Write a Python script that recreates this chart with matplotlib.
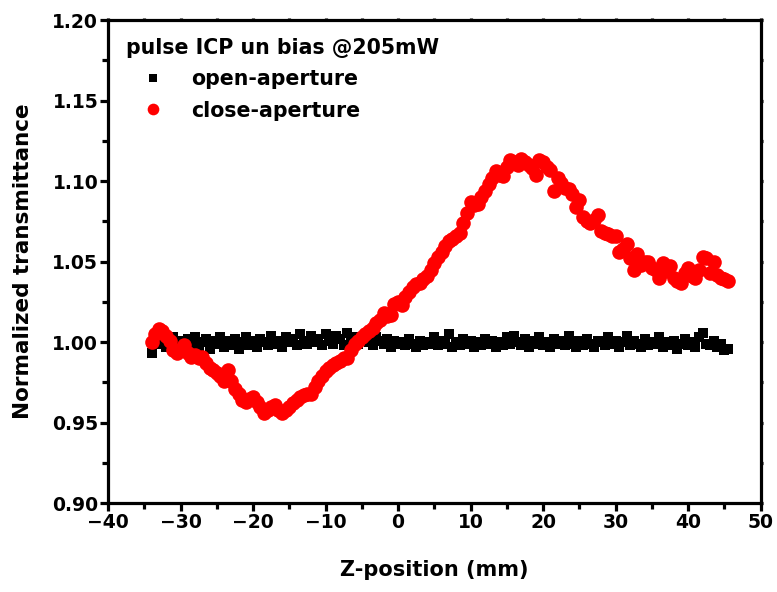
import numpy as np
import matplotlib
matplotlib.use("Agg")
import matplotlib.pyplot as plt
from matplotlib.ticker import MultipleLocator

# scan positions (mm), 0.5 mm step
z_pos = np.arange(-34.0, 46.0, 0.5)

# open-aperture normalized transmittance
open_ap = [
    0.993, 1.001, 0.999, 1.002, 0.997, 1.000, 1.003, 0.998, 1.001,
    0.996, 1.002, 0.999, 1.003, 0.997, 1.000, 1.002, 0.996, 1.001, 0.999,
    1.003, 0.997, 1.001, 0.998, 1.002, 0.996, 1.000, 1.003, 0.998, 1.001,
    0.997, 1.002, 1.000, 0.998, 1.004, 0.999, 1.001, 0.997, 1.003, 1.000,
    1.002, 0.998, 1.005, 1.001, 0.999, 1.004, 1.000, 1.002, 0.998, 1.005,
    1.001, 0.999, 1.004, 1.002, 0.998, 1.006, 1.000, 1.003, 0.999, 1.002,
    1.004, 1.000, 0.998, 1.003, 1.001, 0.999, 1.002, 0.997, 1.001, 0.999,
    1.000, 0.998, 1.002, 0.999, 0.997, 1.001, 0.998, 1.000, 0.999, 1.003,
    0.998, 1.001, 0.999, 1.005, 0.997, 1.000, 0.998, 1.002, 0.999, 1.001,
    0.997, 1.000, 0.998, 1.002, 0.999, 1.001, 0.997, 1.000, 0.998, 1.003,
    0.999, 1.004, 1.000, 0.998, 1.002, 0.997, 1.001, 0.999, 1.003, 0.998,
    1.000, 0.997, 1.002, 0.999, 1.001, 0.998, 1.004, 0.999, 0.997, 1.001,
    0.998, 1.002, 0.999, 0.997, 1.001, 1.000, 0.998, 1.003, 0.999, 1.001,
    0.997, 1.000, 1.004, 0.998, 1.001, 0.999, 0.997, 1.002, 0.998, 1.000,
    0.999, 1.003, 0.997, 1.000, 0.998, 1.001, 0.996, 0.999, 1.002, 0.998,
    1.000, 0.997, 1.003, 1.006, 0.999, 0.998, 1.001, 0.997, 0.999, 0.995, 0.996,
]

# close-aperture normalized transmittance
close_ap = [
    1.000, 1.005, 1.008, 1.007, 1.004, 1.001, 0.995, 0.993, 0.996, 0.998,
    0.993, 0.991, 0.992, 0.990, 0.991, 0.987, 0.984, 0.983, 0.981, 0.979,
    0.976, 0.983, 0.976, 0.971, 0.968, 0.964, 0.963, 0.965, 0.966, 0.963,
    0.960, 0.956, 0.958, 0.960, 0.961, 0.958, 0.956, 0.958, 0.960, 0.962,
    0.964, 0.966, 0.967, 0.968, 0.968, 0.972, 0.976, 0.979, 0.982, 0.984,
    0.986, 0.987, 0.988, 0.990, 0.990, 0.995, 0.999, 1.001, 1.003, 1.005,
    1.007, 1.009, 1.012, 1.014, 1.018, 1.016, 1.017, 1.024, 1.025, 1.023,
    1.028, 1.031, 1.034, 1.036, 1.037, 1.039, 1.041, 1.045, 1.049, 1.053,
    1.056, 1.060, 1.063, 1.064, 1.066, 1.068, 1.074, 1.080, 1.087, 1.085,
    1.086, 1.090, 1.094, 1.098, 1.102, 1.106, 1.104, 1.103, 1.109, 1.113,
    1.112, 1.110, 1.114, 1.112, 1.110, 1.108, 1.104, 1.113, 1.112, 1.109,
    1.107, 1.094, 1.102, 1.099, 1.096, 1.095, 1.092, 1.084, 1.088, 1.078,
    1.075, 1.074, 1.076, 1.079, 1.069, 1.068, 1.067, 1.066, 1.066, 1.056,
    1.058, 1.061, 1.052, 1.045, 1.055, 1.048, 1.050, 1.050, 1.046, 1.045,
    1.040, 1.049, 1.044, 1.047, 1.040, 1.038, 1.037, 1.043, 1.046, 1.041,
    1.040, 1.045, 1.053, 1.052, 1.043, 1.050, 1.042, 1.040, 1.039, 1.038,
]

plt.rcParams['font.family'] = 'DejaVu Sans'
plt.rcParams['font.weight'] = 'bold'

fig = plt.figure(figsize=(7.77, 5.92), dpi=100)
ax = fig.add_axes([0.139, 0.150, 0.840, 0.816])

ax.plot(z_pos, open_ap, 's', color='black', ms=7.5, mew=0, label='open-aperture')
ax.plot(z_pos, close_ap, 'o', color='red', ms=10.5, mew=0, label='close-aperture')

ax.set_xlim(-40, 50)
ax.set_ylim(0.90, 1.20)
ax.xaxis.set_major_locator(MultipleLocator(10))
ax.xaxis.set_minor_locator(MultipleLocator(5))
ax.yaxis.set_major_locator(MultipleLocator(0.05))
ax.yaxis.set_minor_locator(MultipleLocator(0.025))
ax.yaxis.set_major_formatter(matplotlib.ticker.FormatStrFormatter('%.2f'))

for s in ax.spines.values():
    s.set_linewidth(2.3)
ax.tick_params(which='major', direction='out', length=6, width=2.3, labelsize=13.5, pad=1)
ax.tick_params(which='minor', direction='out', length=4, width=2.3)
ax.tick_params(which='both', top=True, right=True)
# tiny ticks on top and right edges
for t in ax.xaxis.get_major_ticks() + ax.xaxis.get_minor_ticks():
    t.tick2line.set_markersize(1.5)
for t in ax.yaxis.get_major_ticks() + ax.yaxis.get_minor_ticks():
    t.tick2line.set_markersize(1.5)

ax.set_xlabel('Z-position (mm)', fontsize=15, fontweight='bold', labelpad=20)
ax.set_ylabel('Normalized transmittance', fontsize=15.5, fontweight='bold', labelpad=14)

leg = ax.legend(loc='upper left', bbox_to_anchor=(0.028, 0.963), frameon=False,
                title='pulse ICP un bias @205mW', alignment='left',
                title_fontproperties={'size': 14.8, 'weight': 'bold'},
                prop={'size': 14.8, 'weight': 'bold'},
                handlelength=2.6, handletextpad=0.55, labelspacing=0.55,
                borderpad=0, borderaxespad=0, numpoints=1, markerscale=0.8)

fig.savefig('out.png', dpi=100)
